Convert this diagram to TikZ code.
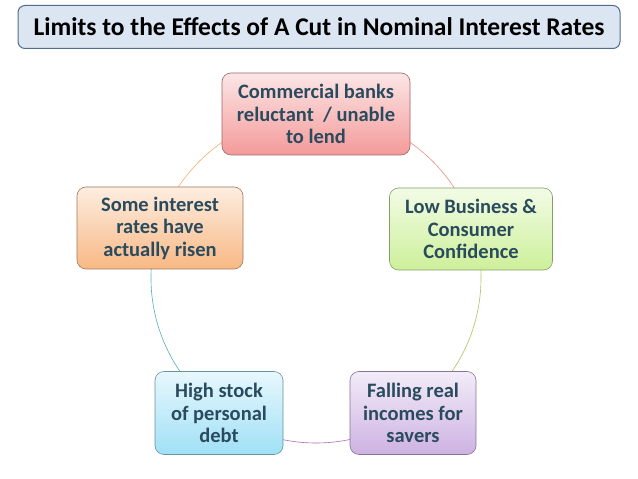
\documentclass[tikz,border=0pt]{standalone}
\usepackage{fontspec}
\setmainfont{Carlito}
\begin{document}
\begin{tikzpicture}[x=1pt,y=1pt,
  box/.style={draw=#1!65!black, line width=0.6pt, rounded corners=9pt, align=center,
     text=txt, font=\bfseries\fontsize{20.5}{22.5}\selectfont, inner sep=0pt,
     top color=#1!25, bottom color=#1},
  ]
\definecolor{txt}{HTML}{2A4B5E}
\definecolor{cA}{HTML}{F49A9A}\definecolor{cB}{HTML}{CDF09A}\definecolor{cC}{HTML}{CDB2E2}
\definecolor{cD}{HTML}{A0E0F6}\definecolor{cE}{HTML}{F8B884}
\definecolor{tfill}{HTML}{DCE6F2}\definecolor{tdraw}{HTML}{4F6D8F}
\useasboundingbox (0,0) rectangle (638,479);
\fill[white] (0,0) rectangle (638,479);
\coordinate (o) at (316,201);
\foreach \a/\b/\c in {90/18/cA!70!brown, 18/-54/cB!60!olive, -54/-126/cC!60!violet, -126/-198/cD!50!teal, 162/90/cE!80!orange}{
  \draw[\c, line width=0.6pt] (o) ++(\a:165) arc[start angle=\a, end angle=\b, radius=165];
}
\node[draw=tdraw, line width=1pt, rounded corners=7pt, fill=tfill,
  minimum width=602, minimum height=43, font=\bfseries\fontsize{25.5}{28}\selectfont, text=black] (title) at (319,452)
  {Limits to the Effects of A Cut in Nominal Interest Rates};
\node[box=cA, minimum width=188, minimum height=82] (n1) at (316,365) {Commercial banks\\reluctant \ / unable\\to lend};
\node[box=cB, minimum width=163, minimum height=82] (n2) at (471,250) {Low Business \&\\Consumer\\Confidence};
\node[box=cC, minimum width=126, minimum height=83] (n3) at (413,66) {Falling real\\incomes for\\savers};
\node[box=cD, minimum width=128, minimum height=83] (n4) at (219,66) {High stock\\of personal\\debt};
\node[box=cE, minimum width=166, minimum height=82] (n5) at (160,251) {Some interest\\rates have\\actually risen};
\end{tikzpicture}
\end{document}
